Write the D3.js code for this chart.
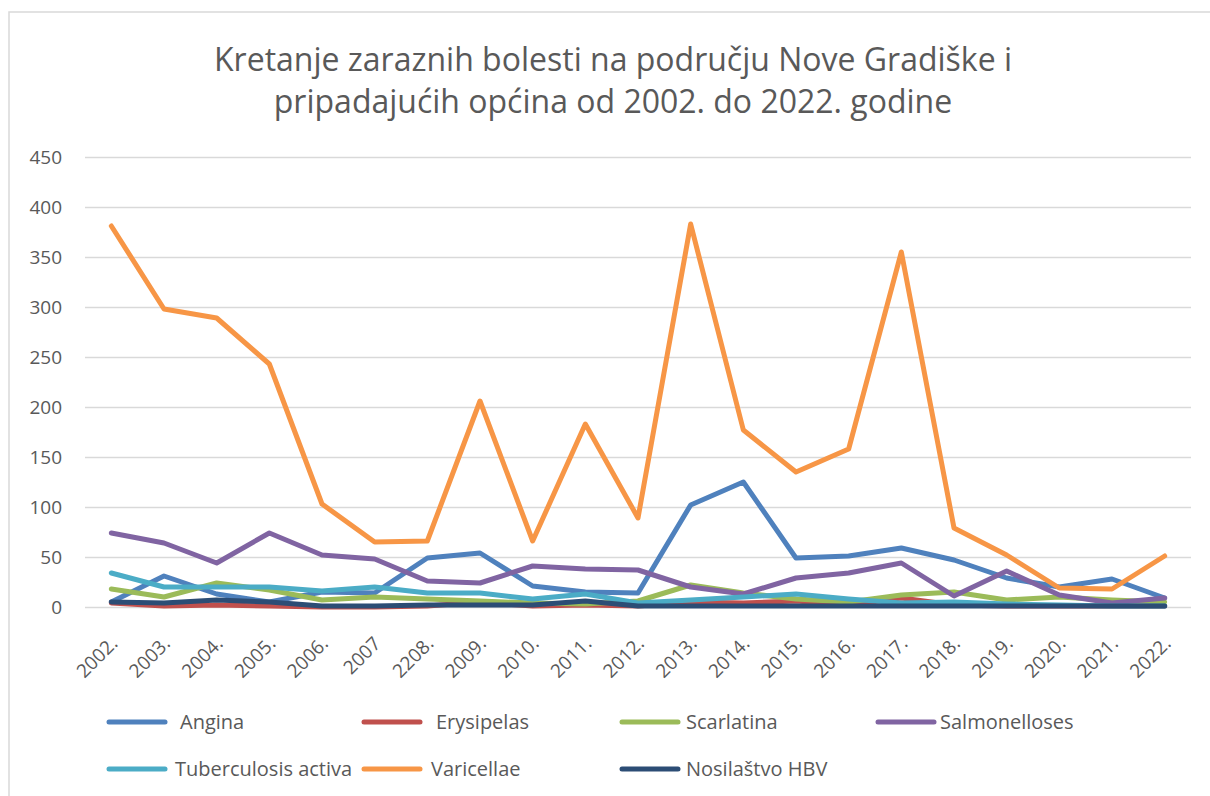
<!DOCTYPE html>
<html>
<head>
<meta charset="utf-8">
<script src="https://cdn.jsdelivr.net/npm/d3@7"></script>
<style>
  body { margin: 0; background: #fff; }
  svg { display: block; font-family: "Open Sans", "Noto Sans", sans-serif; }
</style>
</head>
<body>
<script>
var years = ["2002.", "2003.", "2004.", "2005.", "2006.", "2007", "2208.", "2009.", "2010.", "2011.",
  "2012.", "2013.", "2014.", "2015.", "2016.", "2017.", "2018.", "2019.", "2020.", "2021.", "2022."];

var angina = [5, 31, 13, 5, 15, 14, 49, 54, 21, 15, 14, 102, 125, 49, 51, 59, 47, 29, 20, 28, 9];
var erysipelas = [4, 1, 2, 1, 0, 0, 1, 5, 1, 2, 1, 5, 4, 6, 2, 9, 2, 1, 1, 1, 1];
var scarlatina = [18, 10, 24, 17, 7, 10, 8, 6, 4, 3, 6, 22, 14, 8, 5, 12, 15, 7, 10, 7, 5];
var salmonelloses = [74, 64, 44, 74, 52, 48, 26, 24, 41, 38, 37, 20, 13, 29, 34, 44, 11, 36, 12, 4, 9];
var tuberculosis = [34, 20, 20, 20, 16, 20, 14, 14, 8, 13, 4, 7, 10, 13, 8, 4, 5, 3, 2, 1, 1];
var varicellae = [381, 298, 289, 243, 103, 65, 66, 206, 66, 183, 89, 383, 177, 135, 158, 355, 79, 52, 19, 18, 51];
var hbv = [5, 4, 7, 5, 1, 1, 2, 2, 2, 6, 1, 1, 1, 1, 1, 1, 1, 1, 1, 1, 1];

var yTicks = [0, 50, 100, 150, 200, 250, 300, 350, 400, 450];

var series = [
  { name: "Angina", values: angina, color: "#4f81bd" },
  { name: "Erysipelas", values: erysipelas, color: "#c0504d" },
  { name: "Scarlatina", values: scarlatina, color: "#9bbb59" },
  { name: "Salmonelloses", values: salmonelloses, color: "#8064a2" },
  { name: "Tuberculosis activa", values: tuberculosis, color: "#4bacc6" },
  { name: "Varicellae", values: varicellae, color: "#f79646" },
  { name: "Nosilaštvo HBV", values: hbv, color: "#2c4d75" }
];

var width = 1210, height = 796;
var margin = { left: 85, right: 19, top: 157, bottom: 189 };

var svg = d3.select("body").append("svg")
  .attr("width", width)
  .attr("height", height);

// chart frame
svg.append("rect")
  .attr("x", 9).attr("y", 12)
  .attr("width", 1400).attr("height", 1000)
  .attr("fill", "none")
  .attr("stroke", "#d9d9d9")
  .attr("stroke-width", 1.5);

// title
svg.append("text")
  .attr("x", 613).attr("y", 0)
  .attr("text-anchor", "middle")
  .attr("fill", "#595959")
  .style("font-size", "32px")
  .selectAll("tspan")
  .data(["Kretanje zaraznih bolesti na području Nove Gradiške i",
    "pripadajućih općina od 2002. do 2022. godine"])
  .enter().append("tspan")
  .attr("x", 613)
  .attr("y", (d, i) => 71 + i * 42)
  .text(d => d);

var x = d3.scalePoint()
  .domain(years)
  .range([margin.left, width - margin.right])
  .padding(0.5);

var y = d3.scaleLinear()
  .domain([0, 450])
  .range([height - margin.bottom, margin.top]);

// gridlines + y labels
var yAxis = svg.append("g")
  .attr("transform", "translate(" + margin.left + ",0)")
  .call(d3.axisLeft(y).tickValues(yTicks).tickSize(-(width - margin.left - margin.right)).tickPadding(23));
yAxis.select(".domain").remove();
yAxis.selectAll(".tick line").attr("stroke", "#d9d9d9").attr("stroke-width", 1.5);
yAxis.selectAll(".tick text")
  .attr("fill", "#595959")
  .style("font-size", "19px")
  .style("font-family", "'Open Sans', sans-serif");

// x labels
var xAxis = svg.append("g")
  .attr("transform", "translate(0," + (height - margin.bottom) + ")")
  .call(d3.axisBottom(x).tickSize(0));
xAxis.select(".domain").remove();
xAxis.selectAll(".tick text")
  .attr("fill", "#595959")
  .style("font-size", "19px")
  .style("font-family", "'Open Sans', sans-serif")
  .attr("text-anchor", "end")
  .attr("dy", "0.35em")
  .attr("transform", "translate(0,31) rotate(-45)");

// lines
var line = d3.line()
  .x((d, i) => x(years[i]))
  .y(d => y(d));

svg.append("g")
  .selectAll("path")
  .data(series)
  .enter().append("path")
  .attr("d", d => line(d.values))
  .attr("fill", "none")
  .attr("stroke", d => d.color)
  .attr("stroke-width", 5)
  .attr("stroke-linejoin", "round")
  .attr("stroke-linecap", "round");

// legend
var legendPos = [
  [109, 722], [364, 722], [622, 722], [878, 722],
  [109, 769], [364, 769], [622, 769]
];
var legendTextX = [180, 436, 686, 940, 175, 431, 686];

var legend = svg.append("g")
  .selectAll("g")
  .data(series)
  .enter().append("g");

legend.append("line")
  .attr("x1", (d, i) => legendPos[i][0])
  .attr("x2", (d, i) => legendPos[i][0] + 56)
  .attr("y1", (d, i) => legendPos[i][1])
  .attr("y2", (d, i) => legendPos[i][1])
  .attr("stroke", d => d.color)
  .attr("stroke-width", 5)
  .attr("stroke-linecap", "round");

legend.append("text")
  .attr("x", (d, i) => legendTextX[i])
  .attr("y", (d, i) => legendPos[i][1])
  .attr("dy", "0.35em")
  .attr("fill", "#595959")
  .style("font-size", "20px")
  .text(d => d.name);
</script>
</body>
</html>
